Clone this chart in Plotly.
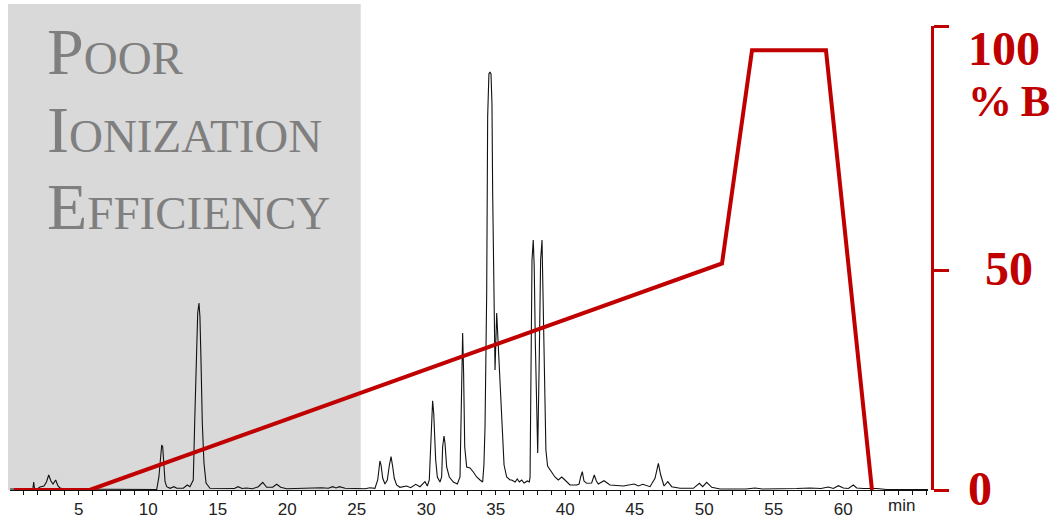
import plotly.graph_objects as go

# ---------------- data ----------------
# chromatogram: retention time (min) and detector signal (arbitrary units)
chrom_time = [0.06, 1.5, 1.70, 1.76, 1.82, 2.07, 2.21, 2.50, 2.68, 2.84, 3.00, 3.15, 3.34, 3.51, 3.65, 4.01,
              6.0, 8.0, 10.0, 10.61, 10.77, 10.90, 10.97, 11.04, 11.11, 11.21, 11.33, 11.57, 11.85, 12.05,
              12.52, 12.81, 13.00, 13.24, 13.36, 13.49, 13.56, 13.65, 13.72, 13.80, 13.89, 14.01, 14.16, 14.44,
              15.5, 16.20, 16.46, 16.75, 17.06, 17.5, 17.92, 18.24, 18.52, 18.95, 19.24, 19.53, 19.96, 20.92,
              21.64, 22.48, 22.96, 23.27, 23.51, 23.75, 24.16, 25.00, 25.60, 25.95, 26.31, 26.51, 26.60, 26.67,
              26.75, 26.87, 27.03, 27.20, 27.35, 27.47, 27.59, 27.70, 27.87, 28.11, 28.59, 28.88, 29.24, 29.55,
              29.91, 30.08, 30.22, 30.32, 30.39, 30.46, 30.54, 30.58, 30.68, 30.80, 30.99, 31.11, 31.18, 31.28,
              31.35, 31.47, 31.66, 31.95, 32.24, 32.43, 32.50, 32.55, 32.62, 32.69, 32.77, 32.91, 33.15, 33.39,
              33.63, 33.87, 34.06, 34.15, 34.23, 34.35, 34.42, 34.51, 34.58, 34.66, 34.73, 34.78, 34.88, 34.95,
              35.07, 35.18, 35.31, 35.38, 35.50, 35.60, 35.79, 36.03, 36.15, 36.39, 36.55, 36.70, 36.87, 37.04,
              37.28, 37.42, 37.47, 37.54, 37.61, 37.70, 37.77, 37.85, 37.95, 38.02, 38.13, 38.23, 38.33, 38.42,
              38.52, 38.61, 38.73, 38.90, 39.26, 39.50, 39.75, 39.98, 40.34, 40.82, 41.00, 41.11, 41.23, 41.35,
              41.54, 41.90, 42.09, 42.24, 42.38, 42.79, 43.22, 44.18, 44.97, 45.26, 45.58, 46.10, 46.46, 46.70,
              46.87, 47.11, 47.38, 47.66, 48.26, 49.22, 49.65, 49.89, 50.18, 50.54, 51.14, 53.0, 53.65, 54.2,
              56.0, 56.65, 57.61, 58.4, 58.93, 59.29, 59.65, 60.01, 60.37, 60.73, 60.97, 61.45, 62.41, 63.13,
              66.1]
chrom_signal = [1.0, 1.0, 1.0, 8.0, 1.0, 1.5, 3.0, 4.0, 8.0, 15.0, 9.0, 6.0, 10.0, 4.0, 2.0, 1.0,
                0.8, 1.0, 0.8, 0.5, 13.3, 40.0, 45.0, 43.3, 23.3, 8.3, 3.3, 1.7, 3.3, 1.7,
                1.7, 5.0, 3.3, 10.0, 76.7, 143.0, 177.0, 187.0, 173.0, 127.0, 67.0, 27.0, 7.0, 1.7,
                1.2, 1.5, 3.3, 1.5, 2.0, 1.2, 3.3, 7.7, 2.7, 2.7, 5.7, 2.7, 1.3, 1.7,
                1.3, 2.3, 1.7, 3.3, 2.0, 3.3, 1.7, 1.3, 1.3, 2.3, 1.7, 10.0, 23.0, 29.0,
                25.0, 11.7, 6.0, 10.0, 25.0, 33.3, 23.0, 11.7, 5.0, 2.7, 4.0, 2.3, 5.7, 3.3,
                8.3, 4.0, 10.0, 43.0, 76.7, 89.3, 76.7, 63.0, 30.0, 13.0, 8.0, 13.0, 43.0, 54.0,
                47.0, 23.0, 13.0, 8.0, 6.0, 13.0, 60.0, 115.0, 157.0, 117.0, 43.0, 23.0, 22.0, 18.0,
                13.0, 10.0, 8.0, 25.0, 63.0, 197.0, 373.0, 416.0, 418.0, 416.0, 386.0, 297.0, 180.0, 120.0,
                177.0, 143.0, 110.0, 80.0, 45.0, 25.0, 13.0, 10.0, 10.0, 8.0, 11.0, 8.0, 10.0, 7.0,
                9.0, 8.0, 13.0, 97.0, 230.0, 250.0, 223.0, 147.0, 63.0, 37.0, 130.0, 230.0, 250.0, 170.0,
                90.0, 40.0, 24.0, 20.0, 13.0, 10.0, 13.0, 10.0, 5.0, 5.0, 6.0, 13.0, 18.3, 9.0,
                6.7, 7.0, 15.0, 9.0, 6.0, 9.3, 5.0, 4.0, 6.0, 4.0, 5.7, 3.3, 11.7, 26.7,
                15.0, 4.0, 8.3, 3.3, 1.7, 1.7, 6.7, 3.3, 7.7, 2.7, 1.0, 1.0, 2.0, 1.0,
                1.0, 1.5, 2.0, 1.5, 3.0, 1.5, 4.3, 2.0, 1.5, 5.0, 2.0, 1.5, 1.5, 0.5,
                0.5]

# gradient programme: time (min) and % B
grad_time = [0.34, 5.79, 51.28, 53.44, 58.76, 62.07]
grad_B = [0, 0, 51.5, 100, 100, 0]

# axis ticks / labels
x_tick_vals = [5, 10, 15, 20, 25, 30, 35, 40, 45, 50, 55, 60]
b_tick_vals = [0, 50, 105.49]
b_label_texts = ["100", "%\u2009B", "50", "0"]
shade_text_lines = ["P<span style='font-size:47px'>OOR</span>",
                    "I<span style='font-size:47px'>ONIZATION</span>",
                    "E<span style='font-size:47px'>FFICIENCY</span>"]

# ---------------- layout helpers (pixel -> paper) ----------------
W, H = 1058, 519
ML, MR, MT, MB = 10, 126, 26, 29
PW, PH = W - ML - MR, H - MT - MB


def px(xp):
    return (xp - ML) / PW


def py(yp):
    return (H - MB - yp) / PH


RED = "#C00000"
AXFONT = dict(family="Arial, Liberation Sans", size=17, color="#222222")

fig = go.Figure()
fig.add_trace(go.Scatter(x=chrom_time, y=chrom_signal, mode="lines",
                         line=dict(color="#111111", width=1.1), yaxis="y",
                         hoverinfo="skip", showlegend=False))
fig.add_trace(go.Scatter(x=grad_time, y=grad_B, mode="lines",
                         line=dict(color=RED, width=4), yaxis="y2",
                         hoverinfo="skip", showlegend=False))

fig.update_layout(
    width=W, height=H,
    margin=dict(l=ML, r=MR, t=MT, b=MB, pad=0, autoexpand=False),
    paper_bgcolor="white", plot_bgcolor="rgba(0,0,0,0)",
    showlegend=False,
    xaxis=dict(domain=[0, px(928)], range=[0.055, 66.1], showgrid=False, zeroline=False,
               automargin=False,
               showline=True, linecolor="#111111", linewidth=1,
               tickmode="array", tickvals=x_tick_vals, ticks="outside", ticklen=4,
               tickcolor="#111111", tickwidth=1, tickfont=AXFONT,
               minor=dict(dtick=1, tick0=0, ticks="outside", ticklen=4, tickcolor="#111111", tickwidth=1),
               fixedrange=True),
    yaxis=dict(range=[0, 464], visible=False, fixedrange=True, automargin=False),
    yaxis2=dict(range=[0, 105.5], overlaying="y", anchor="free", position=1.0, side="right",
                automargin=False,
                showgrid=False, zeroline=False, showline=True, linecolor=RED, linewidth=3,
                tickmode="array", tickvals=b_tick_vals, ticks="outside", ticklen=15,
                tickcolor=RED, tickwidth=2.5, showticklabels=False, fixedrange=True),
)

# shaded "poor ionization" region
fig.add_shape(type="rect", xref="paper", yref="paper",
              x0=px(8), x1=px(360.7), y0=py(490), y1=py(4),
              fillcolor="#D9D9D9", line=dict(width=0), layer="below")

# shaded region text (small caps)
for line_text, yc in zip(shade_text_lines, [51, 129, 206]):
    fig.add_annotation(xref="paper", yref="paper", x=px(45), y=py(yc),
                       xanchor="left", yanchor="middle", showarrow=False,
                       text=line_text,
                       font=dict(family="Liberation Serif, Times New Roman, serif", size=66, color="#7F7F7F"))

# % B axis labels
for txt, xl, yc, fs in zip(b_label_texts, [966, 966, 983, 966], [49, 101.5, 268, 488], [48, 44, 48, 48]):
    fig.add_annotation(xref="paper", yref="paper", x=px(xl), y=py(yc),
                       xanchor="left", yanchor="middle", showarrow=False, text=txt,
                       font=dict(family="Liberation Serif, Times New Roman, serif", size=fs,
                                 color=RED, weight="bold"))

# "min" unit label
fig.add_annotation(xref="paper", yref="paper", x=px(901), y=py(505),
                   xanchor="center", yanchor="middle", showarrow=False, text="min", font=AXFONT)

fig.write_html("out.html")
